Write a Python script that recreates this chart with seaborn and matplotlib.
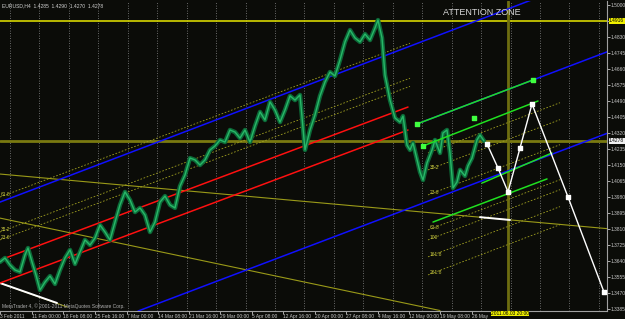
import numpy as np
import pandas as pd
import seaborn as sns
import matplotlib
matplotlib.use("Agg")
import matplotlib.pyplot as plt

sns.set_theme(style="dark")
plt.rcParams['font.family'] = ['Liberation Sans', 'DejaVu Sans']

# ---------------- data (bar index, price) ----------------
bars = [0, 5, 10, 15, 20, 25, 28, 32, 36, 40, 45, 50, 55, 60, 65, 70, 75, 80, 85, 90,
        95, 100, 105, 110, 115, 120, 125, 130, 135, 140, 145, 150, 155, 160, 165, 170,
        175, 180, 185, 190, 195, 200, 205, 210, 215, 220, 225, 230, 235, 240, 245, 250,
        255, 260, 265, 270, 275, 280, 285, 290, 295, 300, 305, 310, 315, 320, 325, 330,
        335, 340, 345, 350, 355, 360, 365, 370, 375, 378, 382, 385, 390, 395, 400, 403,
        407, 410, 413, 420, 423, 427, 432, 435, 440, 443, 447, 450, 453, 457, 460, 465,
        468, 472, 477, 480, 484]
close = [1.3635, 1.3656, 1.3619, 1.3592, 1.3582, 1.3672, 1.3709, 1.3635, 1.3566, 1.3486,
         1.3528, 1.3560, 1.3518, 1.3592, 1.3656, 1.3699, 1.3624, 1.3688, 1.3752, 1.3725,
         1.3762, 1.3831, 1.3794, 1.3752, 1.3847, 1.3938, 1.4007, 1.3964, 1.3900, 1.3922,
         1.3884, 1.3794, 1.3847, 1.3953, 1.3985, 1.3938, 1.3922, 1.4038, 1.4097, 1.4187,
         1.4177, 1.4150, 1.4177, 1.4230, 1.4251, 1.4283, 1.4272, 1.4336, 1.4325, 1.4293,
         1.4336, 1.4272, 1.4357, 1.4432, 1.4389, 1.4485, 1.4442, 1.4378, 1.4442, 1.4517,
         1.4495, 1.4522, 1.4230, 1.4336, 1.4416, 1.4517, 1.4591, 1.4644, 1.4623, 1.4708,
         1.4804, 1.4867, 1.4825, 1.4804, 1.4846, 1.4814, 1.4878, 1.4920, 1.4825, 1.4628,
         1.4495, 1.4400, 1.4378, 1.4410, 1.4256, 1.4230, 1.4267, 1.4113, 1.4070, 1.4161,
         1.4230, 1.4283, 1.4214, 1.4320, 1.4336, 1.4214, 1.4028, 1.4060, 1.4124, 1.4092,
         1.4145, 1.4187, 1.4283, 1.4309, 1.4278]

# channel lines (start bar, end bar, start price, end price)
blue_x = [[0, 540], [417, 607], [138, 607]]
blue_p = [[1.3953, 1.5044], [1.4368, 1.4751], [1.3374, 1.4318]]
red_x = [[0, 408], [0, 408]]
red_p = [[1.3645, 1.4458], [1.3523, 1.4336]]
olive_x = [[0, 607], [0, 440], [0, 67]]
olive_p = [[1.4102, 1.3812], [1.3868, 1.3377], [1.3523, 1.3396]]
white_seg_x = [[480, 510], [0, 57]]
white_seg_p = [[1.3873, 1.3858], [1.3523, 1.3417]]
green_x = [[417, 533], [423, 538], [482, 552], [433, 547]]
green_p = [[1.4368, 1.4602], [1.4251, 1.4490], [1.4054, 1.4214], [1.3847, 1.4076]]
green_dots_x = [417, 474, 533, 423]
green_dots_p = [1.4368, 1.4398, 1.4602, 1.4251]
fibL_x = [[0, 410], [0, 410], [0, 410]]
fibL_p = [[1.3980, 1.4797], [1.3794, 1.4611], [1.3752, 1.4568]]
fibL_lab = ["61.8", "38.2", "23.6"]
fibR_y0 = [1.4214, 1.4124, 1.3991, 1.3805, 1.3752, 1.3662, 1.3566]
fibR_y1 = [1.4481, 1.4391, 1.4258, 1.4072, 1.4019, 1.3929, 1.3833]
fibR_lab = ["", "38.2", "23.6", "61.8", "100", "161.8", "261.8"]
zig_x = [487, 498, 508, 520, 532, 568, 604]
zig_p = [1.4262, 1.4134, 1.4007, 1.4240, 1.4474, 1.3980, 1.3475]

top_level = 1.4916
bid = 1.4278
vline_bar = 508

y_ticks = [1.5000, 1.4915, 1.4830, 1.4745, 1.4660, 1.4575, 1.4490, 1.4405, 1.4320,
           1.4235, 1.4150, 1.4065, 1.3980, 1.3895, 1.3810, 1.3725, 1.3640, 1.3555,
           1.3470, 1.3385]
x_tick_bars = [0, 32, 63, 95, 127, 158, 189, 220, 252, 283, 315, 346, 378, 409, 440, 472]
x_tick_labels = ["3 Feb 2011", "11 Feb 00:00", "18 Feb 08:00", "25 Feb 16:00", "7 Mar 00:00",
                 "14 Mar 08:00", "21 Mar 16:00", "29 Mar 00:00", "5 Apr 08:00", "12 Apr 16:00",
                 "20 Apr 00:00", "27 Apr 08:00", "4 May 16:00", "12 May 00:00", "19 May 08:00",
                 "26 May"]
grid_bars = [10, 39.4, 68.9, 98.3, 127.8, 157.2, 186.6, 216.1, 245.5, 275, 304.4, 333.8,
             363.3, 392.7, 422.2, 451.6, 481, 510.5, 540, 569.4, 598.8]

# ---------------- figure ----------------
BG = "#0b0c08"
fig = plt.figure(figsize=(6.25, 3.19), dpi=100, facecolor=BG)
ax = fig.add_axes([0, 8 / 319, 607 / 625, 310 / 319], facecolor=BG)
ax.set_xlim(0, 607)
ax.set_ylim(1.33744, 1.50213)

for g in grid_bars:
    ax.axvline(g, color="#8a8a8a", lw=0.6, ls=(0, (1, 2)), zorder=1)

ax.axhline(top_level, color="#e8e800", lw=1.1, zorder=2)
ax.axhline(bid, color="#7a7a10", lw=2.0, zorder=2)
ax.axvline(vline_bar, color="#6e6e10", lw=2.0, zorder=2)

for xs, ps in zip(olive_x, olive_p):
    ax.plot(xs, ps, color="#9a9a18", lw=0.8, zorder=3)
for xs, ps in zip(white_seg_x, white_seg_p):
    ax.plot(xs, ps, color="white", lw=1.4, zorder=4)
for xs, ps, lab in zip(fibL_x, fibL_p, fibL_lab):
    ax.plot(xs, ps, color="#a0a020", lw=0.6, ls=(0, (2, 2)), zorder=3)
    ax.text(1, ps[0], lab, color="#c8c840", fontsize=3.5, va="bottom", ha="left", zorder=6)
for a, b, lab in zip(fibR_y0, fibR_y1, fibR_lab):
    ax.plot([428, 560], [a, b], color="#a0a020", lw=0.6, ls=(0, (2, 2)), zorder=3)
    if lab:
        ax.text(430, a, lab, color="#c8c840", fontsize=3.5, va="bottom", ha="left", zorder=6)
for xs, ps in zip(red_x, red_p):
    ax.plot(xs, ps, color="#ff1010", lw=1.1, zorder=4)
for xs, ps in zip(blue_x, blue_p):
    ax.plot(xs, ps, color="#1010ff", lw=1.1, zorder=4)

# price series
df = pd.DataFrame({"bar": bars, "close": close})
sns.lineplot(data=df, x="bar", y="close", ax=ax, color="#0c6a38", lw=3.2,
             estimator=None, zorder=5)
sns.lineplot(data=df, x="bar", y="close", ax=ax, color="#28b868", lw=1.0,
             estimator=None, zorder=5)

for xs, ps in zip(green_x, green_p):
    ax.plot(xs, ps, color="#20e020", lw=1.1, zorder=6)
ax.scatter(green_dots_x, green_dots_p, s=6, marker="s", color="#40ff40", zorder=7)

ax.plot(zig_x, zig_p, color="white", lw=1.0, zorder=8)
ax.scatter(zig_x, zig_p, s=7, marker="s", color="white", zorder=9)

ax.text(482, 1.4962, "ATTENTION ZONE", color="#d8d8d8", fontsize=6.5,
        ha="center", va="center", zorder=10)
ax.text(2, 1.4998, "EURUSD,H4  1.4285  1.4290  1.4270  1.4278", color="#d0d0d0",
        fontsize=3.6, ha="left", va="center", zorder=10)
ax.text(2, 1.3398, "MetaTrader 4, \u00a9 2001-2011 MetaQuotes Software Corp.", color="#b0b0b0",
        fontsize=3.5, ha="left", va="center", zorder=10)

# axes styling
for s in ["top", "left"]:
    ax.spines[s].set_visible(False)
for s in ["right", "bottom"]:
    ax.spines[s].set_color("#a0a0a0")
    ax.spines[s].set_linewidth(0.8)
ax.yaxis.tick_right()
ax.set_yticks(y_ticks)
ax.set_yticklabels(["" if abs(v - top_level) < 0.002 else f"{v:.4f}" for v in y_ticks])
ax.set_xticks(x_tick_bars)
ax.set_xticklabels(x_tick_labels, ha="left")
ax.tick_params(axis="y", colors="#c8c8c8", labelsize=3.5, length=2, width=0.6, pad=0.5,
               right=True, left=False, labelright=True, labelleft=False)
ax.tick_params(axis="x", colors="#c8c8c8", labelsize=3.5, length=2, width=0.6, pad=0.5,
               bottom=True)
ax.grid(False)
ax.set_xlabel("")
ax.set_ylabel("")

# highlighted axis labels
ax.text(609, top_level, f"{top_level:.4f}", color="black", fontsize=3.5, ha="left",
        va="center", bbox=dict(boxstyle="square,pad=0.1", fc="#f0f000", ec="none"),
        clip_on=False, zorder=11)
ax.text(609, bid, f"{bid:.4f}", color="black", fontsize=3.5, ha="left",
        va="center", bbox=dict(boxstyle="square,pad=0.1", fc="#f0f0f0", ec="none"),
        clip_on=False, zorder=11)
ax.text(491, 1.33744, "2011.06.03 20:00", color="black", fontsize=3.5, ha="left",
        va="top", bbox=dict(boxstyle="square,pad=0.1", fc="#f0f000", ec="none"),
        clip_on=False, zorder=11)

fig.savefig("out.png", dpi=100, facecolor=BG)
